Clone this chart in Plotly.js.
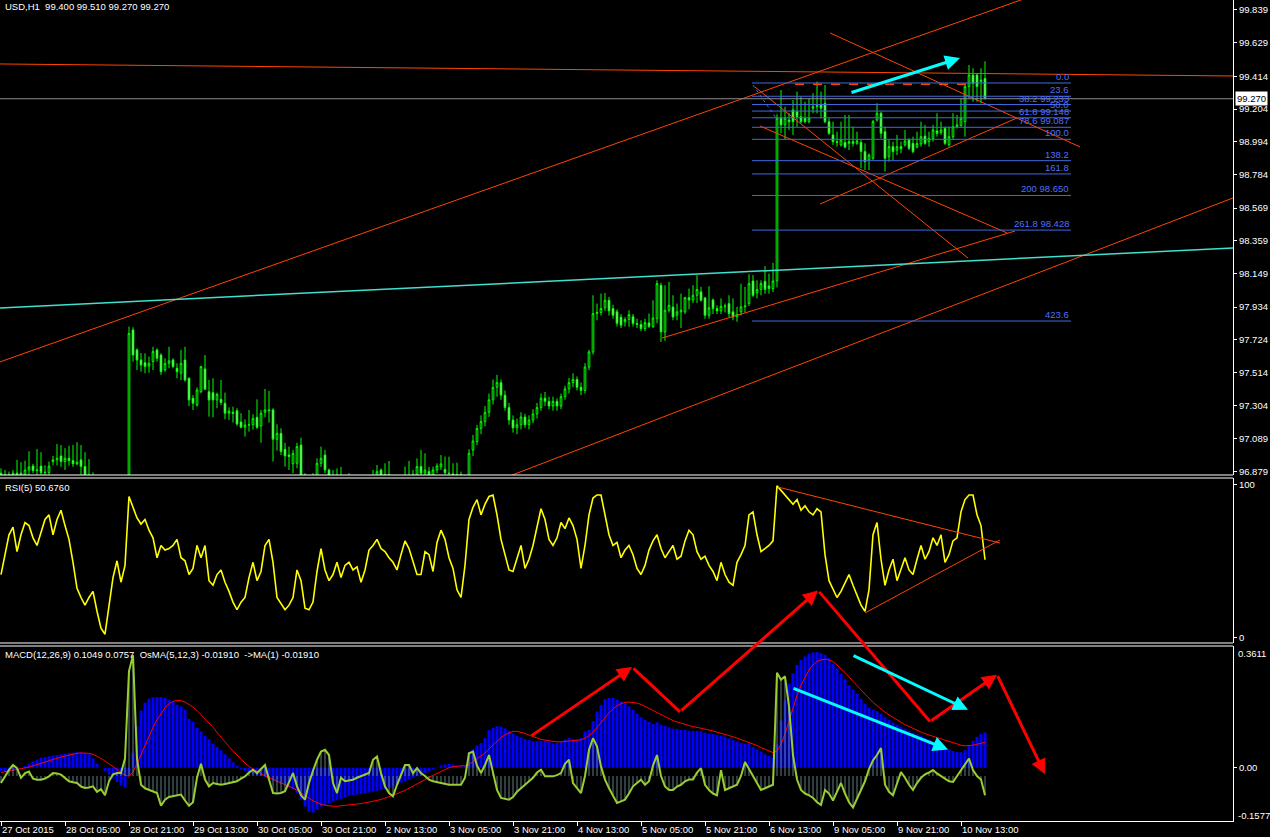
<!DOCTYPE html>
<html><head><meta charset="utf-8">
<script src="https://cdn.plot.ly/plotly-3.0.1.min.js"></script>
<style>html,body{margin:0;padding:0;background:#000;}#chart{width:1270px;height:837px;}</style>
</head><body><div id="chart"></div>
<script>
// ---------- DATA (USD,H1, bar index 0 = 27 Oct 2015) ----------
const open = [
96.87,96.86,96.85,96.86,96.87,96.86,96.86,96.89,96.915,96.886,
96.915,96.873,96.873,96.944,96.955,96.98,96.944,96.965,96.95,96.93,
96.955,96.912,96.858,96.82,96.80,96.78,96.76,96.79,96.77,96.75,
96.78,96.80,96.79,97.788,97.66,97.595,97.578,97.556,97.585,97.66,
97.627,97.531,97.574,97.595,97.542,97.51,97.595,97.478,97.35,97.307,
97.392,97.538,97.392,97.386,97.339,97.343,97.318,97.254,97.26,97.27,
97.198,97.164,97.179,97.179,97.228,97.172,97.26,97.275,97.275,97.087,
97.125,97.023,96.986,96.93,96.933,97.05,96.858,96.80,96.79,96.84,
96.933,96.986,96.89,96.84,96.85,96.84,96.83,96.79,96.80,96.78,
96.76,96.74,96.77,96.80,96.83,96.89,96.85,96.86,96.84,96.82,
96.80,96.82,96.85,96.84,96.86,96.912,96.87,96.88,96.858,96.89,
96.91,96.894,96.87,96.865,96.85,96.86,96.84,96.84,97.018,97.072,
97.157,97.20,97.26,97.34,97.42,97.45,97.37,97.29,97.21,97.16,
97.18,97.23,97.18,97.21,97.25,97.29,97.35,97.33,97.30,97.33,
97.30,97.36,97.41,97.45,97.47,97.42,97.40,97.55,97.647,97.893,
97.90,97.93,97.978,97.925,97.904,97.87,97.84,97.855,97.872,97.829,
97.823,97.797,97.833,97.81,97.86,98.074,97.775,97.914,97.935,97.882,
97.904,97.904,97.995,97.98,98.01,98.032,97.993,97.882,97.98,97.925,
97.91,97.94,97.957,97.904,97.872,97.904,97.936,97.957,98.102,98.026,
98.047,98.1,98.07,98.053,98.102,99.145,99.102,99.134,99.198,99.187,
99.155,99.145,99.123,99.209,99.219,99.23,99.241,99.123,99.038,98.995,
98.974,98.99,98.984,98.995,98.984,98.99,98.931,98.877,98.888,99.134,
99.177,99.059,98.899,98.963,98.941,98.963,98.974,99.006,98.984,98.96,
98.98,99.031,98.995,99.016,99.064,99.053,99.08,98.974,99.027,99.091,
99.097,99.123,99.348,99.422,99.422,99.38,99.40];
const high = [
96.90,96.89,96.88,96.89,96.955,96.94,96.95,97.01,96.93,97.025,
97.004,96.92,96.944,96.98,97.057,97.05,97.03,97.046,97.05,97.068,
97.05,97.004,96.96,96.875,96.83,96.81,96.82,96.82,96.80,96.81,
96.83,96.83,97.81,97.805,97.67,97.64,97.638,97.617,97.68,97.67,
97.638,97.606,97.68,97.606,97.574,97.66,97.68,97.484,97.371,97.42,
97.557,97.627,97.467,97.478,97.386,97.467,97.386,97.292,97.296,97.286,
97.254,97.215,97.275,97.247,97.343,97.275,97.41,97.397,97.286,97.183,
97.157,97.065,97.04,97.018,97.065,97.097,96.87,96.84,96.87,96.965,
97.04,97.018,96.90,96.89,96.90,96.91,96.85,96.87,96.83,96.82,
96.80,96.80,96.83,96.89,96.922,96.90,96.933,96.948,96.85,96.84,
96.85,96.912,96.948,96.89,96.965,97.018,96.997,96.91,96.912,96.933,
96.986,96.976,96.976,96.933,96.937,96.88,96.86,97.023,97.115,97.179,
97.24,97.30,97.38,97.47,97.50,97.47,97.40,97.32,97.24,97.22,
97.26,97.25,97.24,97.28,97.32,97.38,97.39,97.36,97.36,97.35,
97.38,97.43,97.48,97.51,97.49,97.45,97.575,97.66,98.01,97.957,
98.021,98.025,98.0,97.95,97.92,97.89,97.87,97.914,97.89,97.86,
97.85,97.86,97.893,97.978,98.106,98.09,98.074,98.096,98.01,97.957,
98.021,98.0,98.053,98.075,98.138,98.064,98.0,98.068,97.99,97.946,
97.99,97.957,98.01,97.99,97.936,98.085,98.064,98.145,98.14,98.106,
98.106,98.196,98.149,98.218,99.17,99.326,99.219,99.177,99.262,99.316,
99.283,99.251,99.273,99.305,99.38,99.316,99.358,99.145,99.123,99.059,
99.123,99.166,99.166,99.091,99.059,99.006,98.984,98.92,99.134,99.241,
99.187,99.091,99.006,98.995,99.038,98.995,99.07,99.016,99.027,99.059,
99.123,99.102,99.059,99.102,99.177,99.123,99.091,99.091,99.177,99.166,
99.273,99.369,99.486,99.465,99.433,99.465,99.51];
const low = [
96.84,96.83,96.82,96.83,96.84,96.83,96.84,96.85,96.87,96.86,
96.86,96.85,96.86,96.92,96.92,96.91,96.89,96.918,96.91,96.92,
96.86,96.85,96.80,96.78,96.76,96.74,96.74,96.75,96.73,96.73,
96.76,96.77,96.78,97.585,97.531,97.52,97.51,97.514,97.531,97.585,
97.50,97.52,97.542,97.542,97.478,97.467,97.456,97.30,97.275,97.296,
97.382,97.403,97.232,97.228,97.286,97.307,97.215,97.211,97.194,97.172,
97.157,97.104,97.136,97.15,97.153,97.065,97.228,97.194,96.944,97.014,
96.986,96.912,96.89,96.869,96.901,96.82,96.78,96.76,96.77,96.82,
96.91,96.87,96.82,96.80,96.80,96.79,96.76,96.75,96.75,96.73,
96.72,96.72,96.75,96.78,96.80,96.82,96.80,96.79,96.79,96.77,
96.78,96.79,96.80,96.80,96.83,96.84,96.85,96.84,96.84,96.87,
96.89,96.86,96.84,96.82,96.82,96.80,96.80,96.82,96.98,97.05,
97.12,97.17,97.23,97.31,97.36,97.34,97.27,97.18,97.13,97.12,
97.15,97.16,97.15,97.19,97.22,97.27,97.30,97.28,97.27,97.27,
97.28,97.34,97.38,97.42,97.40,97.37,97.38,97.53,97.63,97.85,
97.88,97.91,97.88,97.86,97.81,97.80,97.81,97.808,97.81,97.80,
97.78,97.78,97.80,97.80,97.83,97.711,97.718,97.90,97.85,97.85,
97.80,97.89,97.92,97.96,97.96,97.97,97.86,97.86,97.89,97.89,
97.89,97.90,97.87,97.85,97.84,97.88,97.90,97.94,98.0,97.99,
98.01,98.02,98.02,98.03,98.06,99.048,99.006,99.07,99.038,99.091,
99.112,99.112,99.112,99.177,99.177,99.145,99.112,99.038,98.974,98.963,
98.963,98.952,98.941,98.963,98.974,98.824,98.813,98.813,98.877,99.123,
99.016,98.803,98.867,98.877,98.909,98.92,98.963,98.941,98.92,98.952,
98.963,98.974,98.963,98.995,99.027,99.038,98.974,98.963,99.006,99.08,
99.091,99.027,99.273,99.251,99.251,99.241,99.27];
const close = [
96.86,96.85,96.86,96.87,96.86,96.87,96.89,96.91,96.886,96.89,
96.873,96.875,96.915,96.955,96.965,96.944,96.965,96.95,96.93,96.94,
96.912,96.858,96.82,96.80,96.78,96.76,96.79,96.77,96.75,96.78,
96.80,96.79,97.766,97.627,97.595,97.563,97.553,97.574,97.65,97.606,
97.52,97.574,97.59,97.553,97.52,97.574,97.467,97.339,97.318,97.403,
97.553,97.407,97.339,97.339,97.375,97.322,97.254,97.268,97.253,97.185,
97.164,97.179,97.18,97.221,97.164,97.254,97.275,97.27,97.087,97.125,
97.008,96.98,96.976,96.997,97.04,96.858,96.80,96.79,96.84,96.933,
96.965,96.89,96.84,96.85,96.84,96.83,96.79,96.80,96.78,96.76,
96.74,96.77,96.80,96.83,96.88,96.85,96.86,96.84,96.82,96.80,
96.82,96.85,96.84,96.86,96.912,96.87,96.89,96.86,96.89,96.916,
96.929,96.873,96.868,96.85,96.86,96.84,96.83,96.997,97.076,97.157,
97.20,97.26,97.34,97.42,97.45,97.37,97.29,97.21,97.16,97.18,
97.23,97.18,97.21,97.25,97.29,97.35,97.33,97.30,97.33,97.30,
97.36,97.41,97.45,97.47,97.42,97.40,97.55,97.647,97.893,97.90,
97.925,97.978,97.91,97.882,97.83,97.818,97.855,97.886,97.829,97.823,
97.797,97.835,97.81,97.865,98.085,97.775,97.914,97.946,97.871,97.904,
97.914,97.995,97.98,98.01,98.047,97.978,97.882,97.93,97.925,97.91,
97.94,97.94,97.893,97.872,97.888,97.936,97.941,98.085,98.01,98.047,
98.085,98.047,98.053,98.102,99.145,99.102,99.145,99.123,99.123,99.155,
99.123,99.123,99.145,99.219,99.225,99.209,99.123,99.048,98.995,98.99,
99.006,98.96,98.995,98.984,99.0,98.931,98.867,98.909,99.123,99.177,
99.048,98.888,98.963,98.931,98.963,98.95,98.999,98.952,98.931,98.984,
99.027,98.984,99.016,99.07,99.048,99.07,98.984,99.027,99.091,99.102,
99.145,99.348,99.422,99.369,99.348,99.39,99.27];
const rsi = [
41,54,67,72,56,67,75,73,65,60, 69,77,80,67,77,83,73,64,49,32,
26,21,26,30,17,6,2,21,39,50, 36,47,92,85,78,74,77,70,65,52,
60,57,58,60,64,52,50,41,45,60, 52,60,37,34,41,44,36,30,23,18,
23,26,39,49,37,43,60,64,49,26, 22,18,21,26,44,37,19,18,23,43,
58,44,37,41,49,39,47,49,44,46, 36,44,57,60,64,58,56,52,49,44,
54,63,58,49,41,41,56,54,43,62, 70,64,52,45,31,26,47,77,85,90,
80,87,92,93,80,64,54,44,43,51, 60,45,51,60,71,84,77,64,60,65,
75,71,78,73,64,45,60,80,91,93, 93,80,67,60,62,52,57,60,54,45,
41,47,57,63,67,58,52,56,60,51, 53,63,70,67,56,51,53,47,43,37,
49,41,36,34,49,54,60,80,82,67, 56,58,60,63,99,96,93,90,87,90,
83,86,82,80,84,82,54,37,31,26, 30,36,41,34,27,21,17,31,67,75,
51,34,44,51,37,45,52,44,41,51, 60,51,56,65,60,67,49,54,63,65,
82,90,93,93,80,73,50.676];
const macdMain = [
-0.01,-0.012,-0.01,-0.008,-0.005,-0.002,0.005,0.012,0.02,0.025,
0.03,0.032,0.034,0.036,0.038,0.04,0.042,0.044,0.045,0.046,
0.046,0.044,0.04,0.028,0.012,0.0,-0.01,-0.02,-0.032,-0.042,
-0.052,-0.058,-0.02,0.045,0.125,0.17,0.193,0.205,0.209,0.21,
0.21,0.207,0.202,0.197,0.187,0.182,0.172,0.145,0.136,0.118,
0.108,0.095,0.085,0.072,0.062,0.052,0.04,0.028,0.016,0.006,
-0.004,-0.009,-0.014,-0.019,-0.022,-0.024,-0.027,-0.032,-0.038,-0.043,
-0.048,-0.053,-0.058,-0.063,-0.075,-0.095,-0.115,-0.13,-0.133,-0.125,
-0.115,-0.11,-0.106,-0.1,-0.096,-0.092,-0.088,-0.084,-0.081,-0.079,
-0.078,-0.076,-0.073,-0.07,-0.068,-0.065,-0.062,-0.059,-0.055,-0.05,
-0.044,-0.04,-0.035,-0.03,-0.025,-0.02,-0.015,-0.01,-0.005,0.001,
0.007,0.01,0.012,0.01,0.007,0.005,0.005,0.045,0.056,0.066,
0.073,0.088,0.112,0.118,0.123,0.122,0.117,0.11,0.102,0.095,
0.09,0.085,0.082,0.079,0.079,0.08,0.081,0.077,0.072,0.074,
0.079,0.084,0.089,0.086,0.084,0.089,0.108,0.113,0.138,0.167,
0.187,0.204,0.207,0.207,0.202,0.197,0.19,0.182,0.172,0.16,
0.15,0.142,0.136,0.13,0.135,0.128,0.124,0.12,0.116,0.114,
0.112,0.112,0.11,0.109,0.11,0.108,0.104,0.102,0.1,0.097,
0.095,0.092,0.087,0.082,0.078,0.074,0.072,0.07,0.062,0.055,
0.048,0.04,0.035,0.03,0.07,0.14,0.2,0.25,0.28,0.305,
0.32,0.33,0.338,0.342,0.343,0.34,0.335,0.325,0.31,0.295,
0.278,0.262,0.245,0.232,0.22,0.205,0.19,0.178,0.172,0.168,
0.16,0.15,0.142,0.134,0.128,0.122,0.116,0.11,0.104,0.099,
0.094,0.088,0.083,0.078,0.073,0.068,0.062,0.055,0.05,0.047,
0.046,0.052,0.065,0.08,0.092,0.1,0.1049];
const macdSignal = [
-0.014,-0.012,-0.01,-0.008,-0.006,-0.004,-0.001,0.002,0.006,0.01,
0.013,0.017,0.021,0.025,0.029,0.032,0.035,0.038,0.041,0.043,
0.044,0.044,0.043,0.04,0.035,0.028,0.02,0.012,0.004,-0.005,
-0.015,-0.022,-0.025,-0.012,0.012,0.04,0.068,0.095,0.12,0.142,
0.162,0.178,0.19,0.197,0.2,0.199,0.195,0.188,0.18,0.17,
0.158,0.146,0.133,0.12,0.105,0.09,0.077,0.063,0.05,0.037,
0.025,0.014,0.004,-0.004,-0.012,-0.018,-0.024,-0.029,-0.034,-0.038,
-0.043,-0.048,-0.053,-0.06,-0.067,-0.074,-0.082,-0.09,-0.098,-0.104,
-0.108,-0.111,-0.113,-0.114,-0.114,-0.113,-0.112,-0.111,-0.11,-0.108,
-0.106,-0.104,-0.102,-0.1,-0.097,-0.094,-0.09,-0.086,-0.082,-0.077,
-0.072,-0.067,-0.061,-0.055,-0.048,-0.041,-0.035,-0.028,-0.022,-0.016,
-0.01,-0.005,0.0,0.003,0.005,0.006,0.006,0.01,0.018,0.026,
0.034,0.044,0.056,0.068,0.08,0.09,0.098,0.104,0.108,0.108,
0.106,0.102,0.097,0.092,0.087,0.084,0.082,0.08,0.078,0.077,
0.077,0.078,0.079,0.08,0.081,0.083,0.088,0.095,0.105,0.12,
0.135,0.15,0.163,0.175,0.184,0.19,0.194,0.195,0.194,0.192,
0.188,0.182,0.175,0.168,0.162,0.156,0.15,0.145,0.14,0.136,
0.132,0.128,0.125,0.122,0.12,0.118,0.115,0.112,0.109,0.106,
0.103,0.1,0.096,0.092,0.088,0.084,0.08,0.076,0.071,0.066,
0.06,0.055,0.05,0.045,0.05,0.07,0.1,0.14,0.18,0.215,
0.245,0.27,0.29,0.305,0.315,0.32,0.322,0.32,0.315,0.305,
0.294,0.282,0.27,0.256,0.243,0.23,0.217,0.205,0.194,0.184,
0.174,0.165,0.157,0.149,0.142,0.135,0.128,0.122,0.116,0.111,
0.106,0.101,0.097,0.093,0.089,0.085,0.081,0.077,0.073,0.07,
0.067,0.065,0.065,0.067,0.07,0.073,0.0757];
const osma = [
-0.04,0.0,0.035,0.063,0.045,-0.01,0.017,0.026,-0.015,-0.021,
-0.021,-0.015,-0.002,0.017,0.015,0.008,-0.01,-0.03,-0.036,-0.04,
-0.06,-0.068,-0.065,-0.059,-0.09,-0.075,-0.11,-0.03,0.01,0.017,
0.017,0.1,0.6,0.69,0.1,-0.05,-0.07,-0.078,-0.088,-0.097,
-0.17,-0.135,-0.12,-0.116,-0.11,-0.106,-0.14,-0.17,-0.15,-0.01,
0.07,-0.02,-0.059,-0.04,-0.045,-0.05,-0.045,-0.04,-0.035,-0.03,
-0.015,-0.002,0.02,0.036,0.017,0.04,0.063,-0.02,-0.097,-0.1,
-0.097,-0.087,-0.03,0.017,-0.059,-0.11,-0.135,-0.04,0.03,0.093,
0.14,0.15,0.12,-0.04,-0.097,-0.01,-0.03,-0.025,-0.021,-0.01,
-0.002,0.008,0.017,0.093,0.112,0.017,-0.06,-0.097,-0.116,-0.05,
0.01,0.063,0.063,0.017,0.045,0.017,0.0,-0.021,-0.03,-0.035,
-0.04,-0.045,-0.05,-0.05,-0.05,-0.05,-0.01,0.13,0.14,0.06,
0.017,0.063,0.12,0.017,-0.08,-0.125,-0.13,-0.135,-0.12,-0.09,
-0.07,-0.05,-0.03,-0.01,0.02,0.036,-0.002,-0.002,-0.002,0.005,
0.017,0.07,0.093,-0.04,-0.07,-0.097,0.0,0.15,0.216,0.17,
0.055,-0.021,-0.07,-0.116,-0.154,-0.145,-0.135,-0.1,-0.059,-0.04,
-0.021,-0.05,-0.03,0.06,0.12,0.0,-0.06,-0.08,-0.08,-0.06,
-0.05,-0.03,-0.02,-0.02,0.02,0.045,-0.05,-0.08,-0.1,-0.11,
0.034,-0.08,-0.07,-0.06,-0.05,0.0,0.08,0.04,0.0,-0.04,
-0.08,-0.07,-0.06,-0.05,0.59,0.55,0.57,0.4,0.12,-0.02,
-0.08,-0.1,-0.11,-0.125,-0.15,-0.165,-0.08,-0.1,-0.14,-0.09,
-0.04,-0.1,-0.15,-0.18,-0.13,-0.08,-0.03,0.04,0.09,0.12,
0.16,-0.05,-0.09,-0.11,-0.04,0.023,-0.01,-0.05,-0.08,-0.04,
-0.01,0.01,0.02,0.034,0.015,0.0,-0.015,-0.03,-0.034,0.0,
0.034,0.07,0.1,0.034,0.0,-0.02,-0.11];

const timeTickIdx = [0,16,32,48,64,80,96,112,128,144,160,176,192,208,224,240];
const timeTickText = ["27 Oct 2015","28 Oct 05:00","28 Oct 21:00","29 Oct 13:00","30 Oct 05:00",
  "30 Oct 21:00","2 Nov 13:00","3 Nov 05:00","3 Nov 21:00","4 Nov 13:00","5 Nov 05:00",
  "5 Nov 21:00","6 Nov 13:00","9 Nov 05:00","9 Nov 21:00","10 Nov 13:00"];
const priceTicks = [99.839,99.629,99.414,99.204,98.994,98.784,98.569,98.359,98.149,97.934,97.724,97.514,97.304,97.089,96.879];

// Fibonacci expansion object
const fibLevels = ["0.0","23.6","38.2 99.233","50.0","61.8 99.148","78.6 99.087","100.0","138.2","161.8","200 98.650","261.8 98.428","423.6"];
const fibPrices = [99.371,99.286,99.233,99.191,99.148,99.087,99.010,98.873,98.788,98.650,98.428,97.845];
const fibSpan = [187.75,267.5];
const fibTrend = [188,99.358,193.75,99.147];

// drawn trend lines [x0,y0,x1,y1] in (bar index, value)
const priceRedLines = [
 [-0.25,99.493,308,99.416],
 [-0.25,97.583,270,100.04],
 [120,96.781,308,98.634],
 [165.25,97.736,253.5,98.422],
 [204.75,98.595,254,99.147],
 [207.25,99.692,269.75,98.961],
 [188.5,99.345,241.75,98.249],
 [189.75,99.095,251.5,98.41]
];
const priceCyanLine = [-0.25,97.929,308,98.313];
const priceDashedLine = [198.5,99.363,242.25,99.363];
const priceCyanArrow = [212.25,99.307,239.75,99.531];
const rsiRedLines = [[194.25,98.2,249.75,61.6],[216,15.9,249.75,63.6]];
const macdRedArrows = [ // tailX, tailY, headX, headY, arrowhead
 [132.25,0.0924,157.75,0.299,1],
 [157.75,0.299,169.75,0.166,0],
 [169.75,0.166,204.25,0.526,1],
 [204.25,0.526,232.25,0.137,0],
 [232.25,0.137,249,0.276,1],
 [249,0.276,261,-0.019,1]
];
const macdCyanArrows = [[212.75,0.3346,241.75,0.1724],[197.75,0.2372,236.75,0.054]];
const lastPrice = 99.270;

// ---------- CHART ----------
const idx = open.map((_, i) => i);
const FONT = 'Liberation Sans, Arial, sans-serif';
const FS = 9.5;

const traces = [
 {type:'candlestick', x:idx, open:open, high:high, low:low, close:close, xaxis:'x', yaxis:'y',
  increasing:{line:{color:'#00ff00',width:1}, fillcolor:'#000000'},
  decreasing:{line:{color:'#00ff00',width:1}, fillcolor:'#ffffff'},
  whiskerwidth:0, hoverinfo:'skip'},
 {type:'scatter', mode:'lines', x:idx, y:rsi, xaxis:'x', yaxis:'y2', line:{color:'#ffff00', width:1.6}, hoverinfo:'skip'},
 {type:'bar', x:idx, y:macdMain, xaxis:'x', yaxis:'y3', marker:{color:'#0000ff', line:{width:0}}, width:0.75, hoverinfo:'skip'},
 {type:'scatter', mode:'lines', x:idx, y:macdSignal, xaxis:'x', yaxis:'y3', line:{color:'#ff0000', width:1}, hoverinfo:'skip'},
 {type:'bar', x:idx, y:osma, xaxis:'x', yaxis:'y4', marker:{color:'#5f7f7f', line:{width:0}}, width:0.25, hoverinfo:'skip'},
 {type:'scatter', mode:'lines', x:idx, y:osma, xaxis:'x', yaxis:'y4', line:{color:'#9acd32', width:2}, hoverinfo:'skip'}
];

const shapes = [];
function seg(a, yref, color, width, dash){
  shapes.push({type:'line', xref:'x', yref:yref, x0:a[0], y0:a[1], x1:a[2], y1:a[3],
    line:{color:color, width:width, dash:dash||'solid'}});
}
priceRedLines.forEach(l => seg(l, 'y', '#ff4500', 1));
seg(priceCyanLine, 'y', '#40e0d0', 1.5);
seg(priceDashedLine, 'y', '#ff4500', 1.5, 'dash');
fibPrices.forEach(p => seg([fibSpan[0], p, fibSpan[1], p], 'y', '#4169e1', 1));
seg(fibTrend, 'y', '#4169e1', 1, 'dot');
rsiRedLines.forEach(l => seg(l, 'y2', '#ff4500', 1));
// bid line
shapes.push({type:'line', xref:'paper', yref:'y', x0:0, x1:1, y0:lastPrice, y1:lastPrice, line:{color:'#8c8c8c', width:1}});
// panel separators
[0.42144,0.41778,0.21681,0.21315].forEach(y => shapes.push({type:'line', xref:'paper', yref:'paper', x0:0, x1:1, y0:y, y1:y, line:{color:'#ffffff', width:1}}));

const annotations = [];
function txt(text, x, y, xanchor, yanchor, extra){
  annotations.push(Object.assign({text:text, xref:'paper', yref:'paper', x:x, y:y, xanchor:xanchor, yanchor:yanchor,
    showarrow:false, font:{family:FONT, size:FS, color:'#ffffff'}}, extra||{}));
}
txt('USD,H1\u00a0\u00a0' + [open[246],high[246],low[246],close[246]].map(v=>v.toFixed(3)).join(' '), 0, 0.9915, 'left', 'middle', {xshift:3});
txt('RSI(5) ' + rsi[246].toFixed(4), 0, 0.4064, 'left', 'middle', {xshift:3});
txt('MACD(12,26,9) ' + macdMain[246].toFixed(4) + ' ' + macdSignal[246].toFixed(4) + '\u00a0\u00a0OsMA(5,12,3) -0.01910\u00a0\u00a0->MA(1) -0.01910', 0, 0.2022, 'left', 'middle', {xshift:3});
txt('0.3611', 1, 0.2043, 'left', 'middle', {xshift:3});
txt('-0.1577', 1, 0.0073, 'left', 'middle', {xshift:3});
annotations.push({text:lastPrice.toFixed(3), xref:'paper', yref:'y', x:1, y:lastPrice, xanchor:'left', yanchor:'middle', xshift:2,
  showarrow:false, bgcolor:'#ffffff', borderpad:1, font:{family:FONT, size:FS, color:'#000000'}});
fibLevels.forEach((t, i) => annotations.push({text:t, xref:'x', yref:'y', x:fibSpan[1], y:fibPrices[i], xanchor:'right', yanchor:'bottom',
  yshift:-1, showarrow:false, font:{family:FONT, size:FS, color:'#4f6fff'}}));
function arrow(a, yref, color, head){
  annotations.push({text:'', xref:'x', yref:yref, axref:'x', ayref:yref, x:a[2], y:a[3], ax:a[0], ay:a[1],
    showarrow:true, arrowhead:head, arrowsize:1, arrowwidth:3, arrowcolor:color, standoff:0, startstandoff:0});
}
arrow(priceCyanArrow, 'y', '#00ffff', 2);
macdRedArrows.forEach(a => arrow(a, 'y3', '#ff0000', a[4] ? 2 : 0));
macdCyanArrows.forEach(a => arrow(a, 'y3', '#00ffff', 2));

const axCommon = {showgrid:false, zeroline:false, ticks:'outside', tickcolor:'#ffffff', tickwidth:1,
  showline:true, linecolor:'#ffffff', linewidth:1, tickfont:{family:FONT, size:FS, color:'#ffffff'}, fixedrange:true};

const layout = {
  width:1270, height:837, margin:{l:0, r:37, t:0, b:16},
  paper_bgcolor:'#000000', plot_bgcolor:'#000000', showlegend:false, hovermode:false,
  barmode:'overlay', boxgap:0.4, font:{family:FONT, size:FS, color:'#ffffff'},
  xaxis: Object.assign({}, axCommon, {domain:[0,1], anchor:'y3', range:[-0.25,308], rangeslider:{visible:false},
    tickmode:'array', tickvals:timeTickIdx, ticktext:timeTickText, ticklen:4, ticklabelposition:'outside right'}),
  yaxis: Object.assign({}, axCommon, {domain:[0.42144,1], anchor:'x', side:'right', range:[96.858,99.903],
    tickmode:'array', tickvals:priceTicks, ticktext:priceTicks.map(v=>v.toFixed(3)), ticklen:3}),
  yaxis2: Object.assign({}, axCommon, {domain:[0.21681,0.41778], anchor:'x', side:'right', range:[-3.73,104.1],
    tickmode:'array', tickvals:[0,100], ticktext:['0','100'], ticklen:3}),
  yaxis3: Object.assign({}, axCommon, {domain:[0,0.21315], anchor:'x', side:'right', range:[-0.1577,0.3611],
    tickmode:'array', tickvals:[0], ticktext:['0.00'], ticklen:3}),
  yaxis4: {overlaying:'y3', anchor:'x', side:'right', range:[-0.257,0.743], showticklabels:false, showline:false,
    ticks:'', showgrid:false, zeroline:false, fixedrange:true},
  shapes:shapes, annotations:annotations
};

Plotly.newPlot('chart', traces, layout, {displayModeBar:false, staticPlot:true});
</script></body></html>
